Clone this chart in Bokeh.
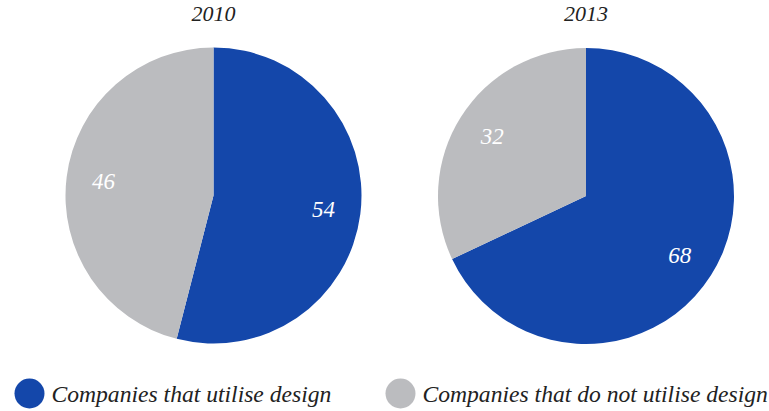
import numpy as np
from bokeh.plotting import figure
from bokeh.models import Range1d
from bokeh.core.properties import value
from bokeh.embed import file_html
from bokeh.resources import INLINE

years = ["2010", "2013"]
categories = ["Companies that utilise design", "Companies that do not utilise design"]
values_2010 = [54, 46]
values_2013 = [68, 32]
colors = ["#1447AA", "#BBBCBF"]

W, H = 769, 411
FONT = "Liberation Serif"

p = figure(width=W, height=H, output_backend="svg", toolbar_location=None,
           x_range=Range1d(0, W), y_range=Range1d(0, H), min_border=0)
p.axis.visible = False
p.grid.visible = False
p.outline_line_color = None
p.background_fill_color = "white"

# y measured upward from bottom of canvas
centers = [(213, 216), (585.5, 215.5)]
R = 148
for (cx, cy), yr, vals in zip(centers, years, [values_2010, values_2013]):
    v = np.array(vals, dtype=float)
    frac = v / v.sum()
    cum = np.concatenate([[0], np.cumsum(frac)])
    starts = np.pi / 2 - 2 * np.pi * cum[:-1]
    ends = np.pi / 2 - 2 * np.pi * cum[1:]
    p.wedge(x=[cx] * len(v), y=[cy] * len(v), radius=R,
            start_angle=list(starts), end_angle=list(ends), direction="clock",
            fill_color=colors, line_color=None)
    mids = (starts + ends) / 2
    lr = 111
    p.text(x=list(cx + lr * np.cos(mids)), y=list(cy + lr * np.sin(mids)),
           text=[str(int(x)) for x in vals], text_color="white",
           text_font=value(FONT), text_font_style="italic", text_font_size="23px",
           text_align="center", text_baseline="middle")
    p.text(x=[cx], y=[H - 13], text=[yr], text_color="#222222",
           text_font=value(FONT), text_font_style="italic", text_font_size="22px",
           text_align="center", text_baseline="middle")

# legend
leg_x = [29, 400]
leg_y = 18
p.scatter(x=leg_x, y=[leg_y] * 2, size=30, marker="circle", fill_color=colors, line_color=None)
p.text(x=[x + 22 for x in leg_x], y=[leg_y] * 2, text=categories, text_color="#222222",
       text_font=value(FONT), text_font_style="italic", text_font_size="23.6px",
       text_align="left", text_baseline="middle")

open("out.html", "w").write(file_html(p, INLINE))
